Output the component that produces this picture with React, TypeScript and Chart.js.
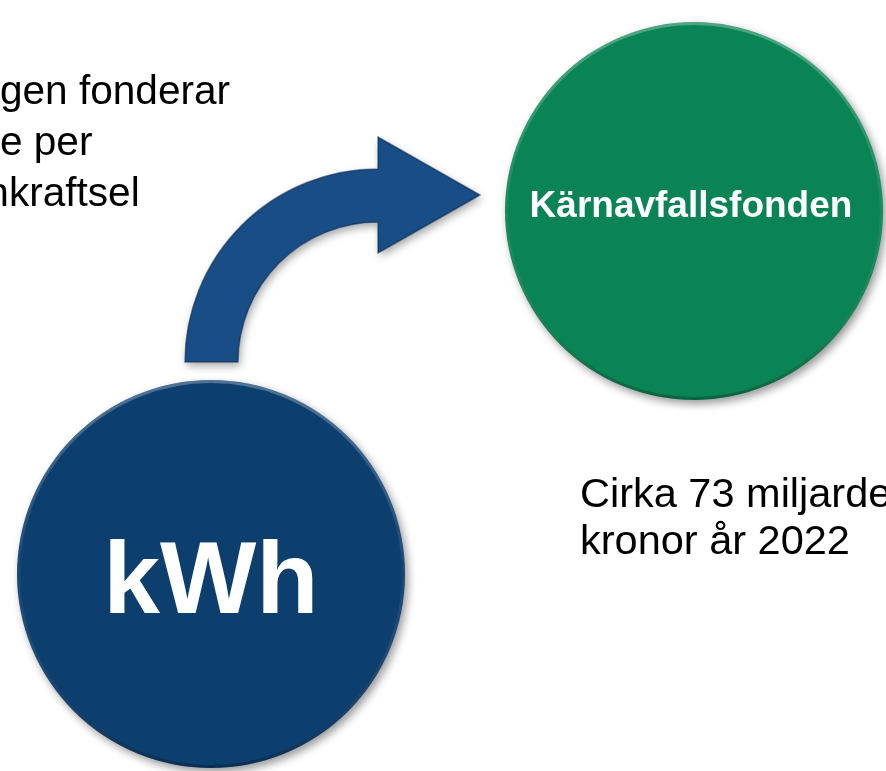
import React, { useEffect, useRef } from "react";
import { Chart, registerables } from "chart.js";

Chart.register(...registerables);

const W = 886;
const H = 771;

// Circles (chart units: x 0..886, y 0..771 downward)
const circleLabels = ["Kärnavfallsfonden", "kWh"];
const circleX = [694, 211];
const circleY = [211, 574];
const circleR = [189, 194];

// Curved arrow: arc centre x, centre y, outer radius, inner radius
const arrowArc = [378, 362, 193, 140];
// Arrow head: base x, top y, bottom y, tip x, tip y
const arrowHead = [378, 137, 253, 480, 195];

const introLines = ["Kraftbolagen fonderar", "ett par öre per", "kWh kärnkraftsel"];
const fundLines = ["Cirka 73 miljarder", "kronor år 2022"];

const GREEN = "#0a8454";
const BLUE = "#0c3e6e";
const ARROW = "#194d86";
const FONT = "'Liberation Sans', Arial, Helvetica, sans-serif";

const decoPlugin = {
  id: "deco",
  beforeDatasetsDraw(chart: any) {
    const ctx = chart.ctx;
    const xs = chart.scales.x;
    const ys = chart.scales.y;
    const px = (v: number) => xs.getPixelForValue(v);
    const py = (v: number) => ys.getPixelForValue(v);
    const [cx, cy, ro, ri] = arrowArc;
    const pcx = px(cx);
    const pcy = py(cy);
    const pro = px(cx + ro) - pcx;
    const pri = px(cx + ri) - pcx;
    const [bx, ty, by, tx, tty] = arrowHead;
    ctx.save();
    ctx.beginPath();
    ctx.arc(pcx, pcy, pro, Math.PI, 1.5 * Math.PI, false);
    ctx.lineTo(px(bx), py(ty));
    ctx.lineTo(px(tx), py(tty));
    ctx.lineTo(px(bx), py(by));
    ctx.lineTo(pcx, pcy - pri);
    ctx.arc(pcx, pcy, pri, 1.5 * Math.PI, Math.PI, true);
    ctx.closePath();
    ctx.shadowColor = "rgba(0,0,0,0.35)";
    ctx.shadowBlur = 8;
    ctx.shadowOffsetX = 2;
    ctx.shadowOffsetY = 4;
    ctx.fillStyle = ARROW;
    ctx.fill();
    ctx.shadowColor = "transparent";
    ctx.lineWidth = 1.5;
    ctx.strokeStyle = "rgba(8,40,80,0.55)";
    ctx.stroke();
    ctx.restore();
  },
  beforeDatasetDraw(chart: any) {
    const ctx = chart.ctx;
    ctx.save();
    ctx.shadowColor = "rgba(0,0,0,0.4)";
    ctx.shadowBlur = 9;
    ctx.shadowOffsetX = 3;
    ctx.shadowOffsetY = 4;
  },
  afterDatasetDraw(chart: any, args: any) {
    const ctx = chart.ctx;
    ctx.restore();
    const meta = chart.getDatasetMeta(args.index);
    meta.data.forEach((el: any) => {
      const r = el.options.radius;
      const g = ctx.createLinearGradient(el.x, el.y - r, el.x, el.y + r);
      g.addColorStop(0, "rgba(255,255,255,0.28)");
      g.addColorStop(0.5, "rgba(255,255,255,0.05)");
      g.addColorStop(1, "rgba(0,0,0,0.25)");
      ctx.save();
      ctx.beginPath();
      ctx.arc(el.x, el.y, r - 1.5, 0, Math.PI * 2);
      ctx.lineWidth = 3;
      ctx.strokeStyle = g;
      ctx.stroke();
      ctx.restore();
    });
  },
};

export default function App() {
  const ref = useRef<HTMLCanvasElement | null>(null);

  useEffect(() => {
    if (!ref.current) return;
    const chart: any = new Chart(ref.current, {
      type: "bubble",
      data: {
        labels: circleLabels,
        datasets: [
          {
            label: "circles",
            data: circleX.map((x, i) => ({ x, y: circleY[i], r: circleR[i] })),
            backgroundColor: [GREEN, BLUE],
            borderWidth: 0,
            hoverRadius: 0,
            hoverBorderWidth: 0,
            clip: false,
          } as any,
        ],
      },
      options: {
        responsive: false,
        animation: false,
        events: [],
        layout: { padding: 0 },
        plugins: { legend: { display: false }, tooltip: { enabled: false } },
        scales: {
          x: { type: "linear", min: 0, max: W, display: false },
          y: { type: "linear", min: 0, max: H, reverse: true, display: false },
        },
      },
      plugins: [decoPlugin as any],
    });
    // The bubble controller pads the chart area by the largest radius;
    // align the scale ranges with that area so one unit equals one pixel.
    const ca = chart.chartArea;
    chart.options.scales.x.min = ca.left;
    chart.options.scales.x.max = ca.right;
    chart.options.scales.y.min = ca.top;
    chart.options.scales.y.max = ca.bottom;
    chart.update();
    return () => chart.destroy();
  }, []);

  const introFs = 40.6;
  const fundFs = 41.5;

  return (
    <div
      style={{
        position: "absolute",
        left: 0,
        top: 0,
        width: W,
        height: H,
        overflow: "hidden",
        background: "#ffffff",
        fontFamily: FONT,
      }}
    >
      <canvas ref={ref} width={W} height={H} style={{ position: "absolute", left: 0, top: 0 }} />
      <div
        style={{
          position: "absolute",
          left: -4.002 * introFs,
          top: 65,
          fontSize: introFs,
          lineHeight: "51px",
          color: "#000",
          whiteSpace: "nowrap",
        }}
      >
        {introLines.map((t) => (
          <div key={t}>{t}</div>
        ))}
      </div>
      <div
        style={{
          position: "absolute",
          left: 580,
          top: 469,
          fontSize: fundFs,
          lineHeight: "47px",
          color: "#000",
          whiteSpace: "nowrap",
        }}
      >
        {fundLines.map((t) => (
          <div key={t}>{t}</div>
        ))}
      </div>
      <div
        style={{
          position: "absolute",
          left: 691 - 200,
          width: 400,
          top: 186,
          fontSize: 37,
          lineHeight: "37px",
          fontWeight: "bold",
          color: "#fff",
          textAlign: "center",
          whiteSpace: "nowrap",
        }}
      >
        {circleLabels[0]}
      </div>
      <div
        style={{
          position: "absolute",
          left: 211 - 200,
          width: 400,
          top: 527,
          fontSize: 102,
          lineHeight: "102px",
          fontWeight: "bold",
          color: "#fff",
          textAlign: "center",
          whiteSpace: "nowrap",
        }}
      >
        {circleLabels[1]}
      </div>
    </div>
  );
}
